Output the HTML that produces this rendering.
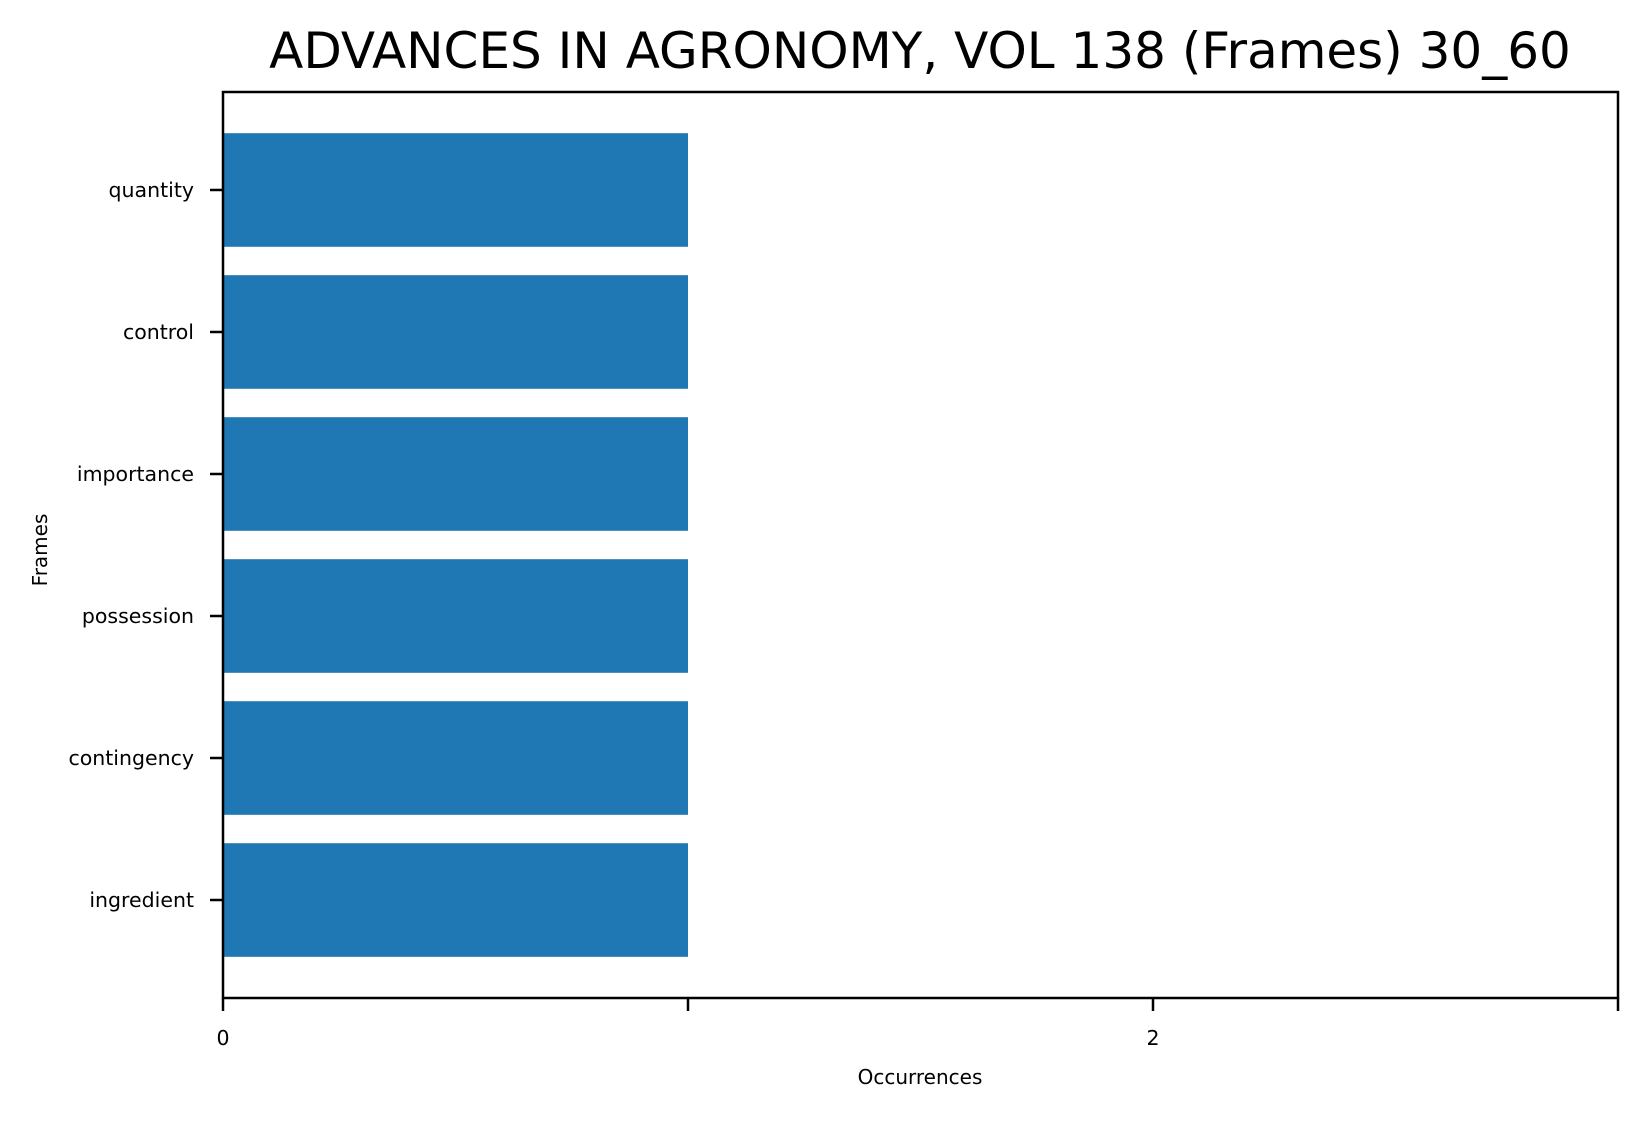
<!DOCTYPE html>
<html><head><meta charset="utf-8"><style>
html,body{margin:0;padding:0;background:#fff}
svg text{font-family:"DejaVu Sans","Liberation Sans",sans-serif;fill:#000}
</style></head><body>
<svg id="chart" width="1647" height="1118" viewBox="0 0 1647 1118" xmlns="http://www.w3.org/2000/svg">
<text x="920" y="68" font-size="50" text-anchor="middle">ADVANCES IN AGRONOMY, VOL 138 (Frames) 30_60</text>
<g id="bars"></g>
<g id="axes"></g>
<text x="920" y="1084" font-size="20" text-anchor="middle">Occurrences</text>
<text x="0" y="0" font-size="20" text-anchor="middle" transform="translate(47,550) rotate(-90)">Frames</text>
</svg>
<script>
const categories = ["ingredient","contingency","possession","importance","control","quantity"];
const values = [1,1,1,1,1,1];
const xTicks = [0,1,2,3];
const xTickLabels = ["0","","2",""];

const L=223,R=1618,T=92,B=998;
const xMin=0,xMax=3;
const yMin=-0.4-0.29,yMax=5.4+0.29;
const xs=v=>L+(v-xMin)/(xMax-xMin)*(R-L);
const ys=v=>B-(v-yMin)/(yMax-yMin)*(B-T);
const NS="http://www.w3.org/2000/svg";
const bars=document.getElementById('bars'),axes=document.getElementById('axes');
function mk(tag,attrs,parent){const e=document.createElementNS(NS,tag);for(const k in attrs)e.setAttribute(k,attrs[k]);parent.appendChild(e);return e;}
categories.forEach((c,i)=>{
  const y0=ys(i+0.4),y1=ys(i-0.4);
  const r=mk('rect',{x:xs(0),y:y0,width:xs(values[i])-xs(0),height:y1-y0,fill:'#1f77b4'},bars);
  
  
  const t=mk('line',{x1:L-13,x2:L,y1:ys(i),y2:ys(i),stroke:'#000','stroke-width':2.5},axes);
  
  
  const lb=mk('text',{x:L-29,y:ys(i)+7,'font-size':20.5,'text-anchor':'end'},axes);
  lb.textContent=c;
  
  
});
xTicks.forEach((v,i)=>{
  const t=mk('line',{x1:xs(v),x2:xs(v),y1:B,y2:B+13,stroke:'#000','stroke-width':2.5},axes);
  
  
  if(xTickLabels[i]){
    const lb=mk('text',{x:xs(v),y:B+47,'font-size':20.5,'text-anchor':'middle'},axes);
    lb.textContent=xTickLabels[i];
    
    
  }
});
const fr=mk('rect',{x:L,y:T,width:R-L,height:B-T,fill:'none',stroke:'#000','stroke-width':2.5},axes);


</script>
</body></html>
